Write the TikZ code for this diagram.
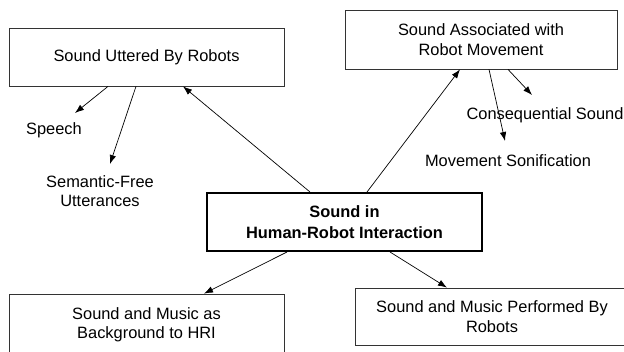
\documentclass[tikz,border=0pt]{standalone}
\usepackage{fontspec}
\setmainfont{Liberation Sans}
\usetikzlibrary{arrows.meta}

\begin{document}
\begin{tikzpicture}[x=1pt,y=-1pt,
  every node/.style={font=\fontsize{16.4}{19.5}\selectfont, align=center, inner sep=0pt},
  topic/.style={draw=black!80, line width=0.8pt, minimum width=275pt},
  core/.style={draw=black, line width=2pt, minimum width=275pt, minimum height=58pt,
               font=\fontsize{16.4}{21}\selectfont\bfseries},
  leaf/.style={},
  arr/.style={draw=black, line width=0.7pt, -{Latex[length=9pt,width=6.5pt]}}
]
\clip (0,0) rectangle (624,352);
\useasboundingbox (0,0) rectangle (624,352);

% main topic boxes
\node[topic, minimum height=58pt] (b1) at (146.5,57) {Sound Uttered By Robots};
\node[topic, minimum width=272pt, minimum height=59pt] (b2) at (481,39.5) {Sound Associated with\\Robot Movement};
\node[core] (c) at (344.5,222) {Sound in\\Human-Robot Interaction};
\node[topic, minimum height=62pt] (bl) at (146.5,325) {Sound and Music as\\Background to HRI};
\node[topic, minimum width=274pt, minimum height=57pt] (br) at (492,316.5) {Sound and Music Performed By\\Robots};

% sub-topics
\node[leaf] (speech) at (54,130) {Speech};
\node[leaf] (sem) at (100,191) {Semantic-Free\\Utterances};
\node[leaf] (cons) at (545,115) {Consequential Sound};
\node[leaf] (movs) at (508,161) {Movement Sonification};

% connectors
\draw[arr] ([xshift=-38.5pt]b1.south) -- ([xshift=21pt,yshift=17pt]speech.center);
\draw[arr] ([xshift=-10.5pt]b1.south) -- ([xshift=10pt,yshift=27pt]sem.center);
\draw[arr] ([xshift=-34.5pt]c.north) -- ([xshift=36.5pt]b1.south);
\draw[arr] ([xshift=22.5pt]c.north) -- ([xshift=-21pt]b2.south);
\draw[arr] ([xshift=27pt]b2.south) -- ([xshift=-13pt,yshift=20pt]cons.center);
\draw[arr] ([xshift=8pt]b2.south) -- ([xshift=-3pt,yshift=20pt]movs.center);
\draw[arr] ([xshift=-57.5pt]c.south) -- ([xshift=57.5pt]bl.north);
\draw[arr] ([xshift=45.5pt]c.south) -- ([xshift=-45pt]br.north);
\end{tikzpicture}
\end{document}
